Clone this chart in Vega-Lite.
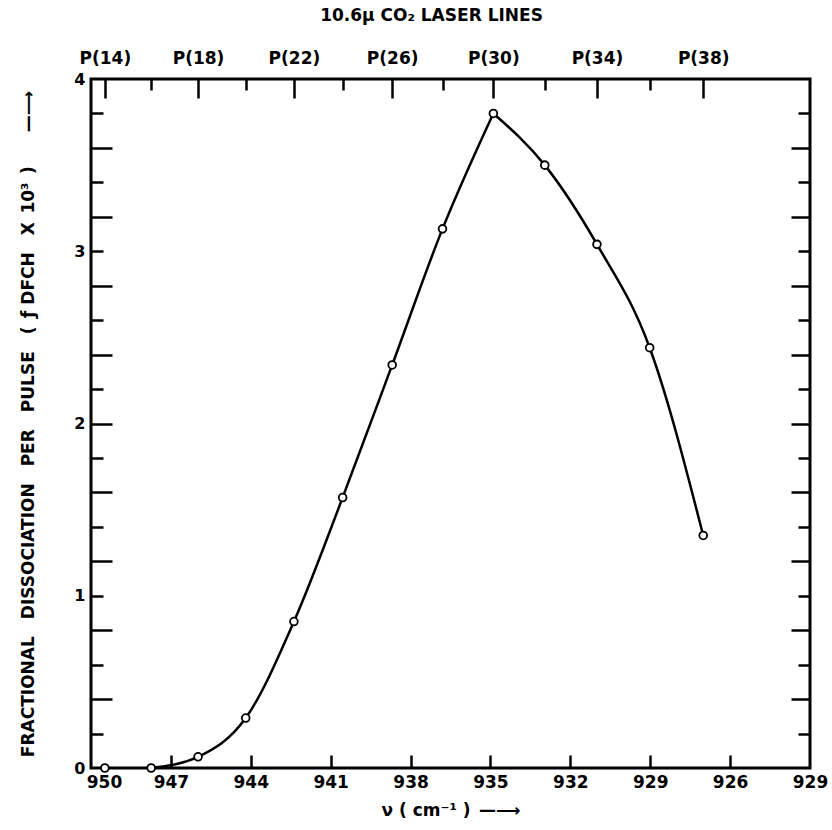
{
  "$schema": "https://vega.github.io/schema/vega-lite/v6.json",
  "width": 719,
  "height": 689,
  "autosize": {"type": "none"},
  "padding": {"left": 91, "top": 79, "right": 22, "bottom": 62},
  "background": "white",
  "config": {
    "view": {"stroke": "black", "strokeWidth": 3},
    "font": "DejaVu Sans",
    "axis": {
      "domain": false,
      "grid": false,
      "labelFont": "DejaVu Sans",
      "labelFontWeight": "bold",
      "labelColor": "black",
      "labelFontSize": 17,
      "tickColor": "black",
      "tickWidth": 2.5,
      "titleFont": "DejaVu Sans",
      "titleFontWeight": "bold",
      "titleColor": "black",
      "labelOverlap": false
    }
  },
  "datasets": {
    "points": [
      {"v": 949.48, "f": 0},
      {"v": 947.74, "f": 0},
      {"v": 945.98, "f": 0.065},
      {"v": 944.19, "f": 0.29},
      {"v": 942.38, "f": 0.85},
      {"v": 940.55, "f": 1.57},
      {"v": 938.69, "f": 2.34},
      {"v": 936.80, "f": 3.13},
      {"v": 934.89, "f": 3.8},
      {"v": 932.96, "f": 3.5},
      {"v": 931.00, "f": 3.04},
      {"v": 929.02, "f": 2.44},
      {"v": 927.01, "f": 1.35}
    ],
    "rise": [
      {"v": 947.74, "f": 0},
      {"v": 945.98, "f": 0.065},
      {"v": 944.19, "f": 0.29},
      {"v": 942.38, "f": 0.85},
      {"v": 940.55, "f": 1.57},
      {"v": 938.69, "f": 2.34},
      {"v": 936.80, "f": 3.13},
      {"v": 934.89, "f": 3.8}
    ],
    "fall": [
      {"v": 934.89, "f": 3.8},
      {"v": 932.96, "f": 3.5},
      {"v": 931.00, "f": 3.04},
      {"v": 929.02, "f": 2.44},
      {"v": 927.01, "f": 1.35}
    ]
  },
  "resolve": {"axis": {"x": "independent", "y": "independent"}},
  "layer": [
    {
      "data": {"name": "rise"},
      "mark": {"type": "line", "interpolate": "monotone", "color": "black", "strokeWidth": 2.5},
      "encoding": {
        "x": {
          "field": "v", "type": "quantitative",
          "scale": {"domain": [923, 950], "reverse": true, "nice": false, "zero": false},
          "axis": {
            "orient": "bottom",
            "values": [950, 947, 944, 941, 938, 935, 932, 929, 926, 923],
            "ticks": false,
            "format": "d",
            "labelPadding": 6,
            "labelFlush": false,
            "labelExpr": "datum.value == 923 ? '929' : datum.label",
            "labelOffset": {"condition": {"test": "datum.value == 950", "value": 13}, "value": 0},
            "title": "ν ( cm⁻¹ )\u2002—⟶",
            "titleFontSize": 17,
            "titlePadding": 12
          }
        },
        "y": {
          "field": "f", "type": "quantitative",
          "scale": {"domain": [0, 4], "nice": false},
          "axis": {
            "orient": "left",
            "values": [0, 1, 2, 3, 4],
            "ticks": false,
            "format": "d",
            "labelPadding": 6,
            "labelFontSize": 16,
            "title": "FRACTIONAL\u2003DISSOCIATION\u2003PER\u2003PULSE\u2003(\u2002ƒ\u00a0DFCH\u2003X\u200210³\u2002)\u2003\u2003—⟶",
            "titleFontSize": 17,
            "titlePadding": 36
          }
        },
        "order": {"field": "v", "sort": "descending"}
      }
    },
    {
      "data": {"name": "fall"},
      "mark": {"type": "line", "interpolate": "monotone", "color": "black", "strokeWidth": 2.5},
      "encoding": {
        "x": {
          "field": "v", "type": "quantitative",
          "scale": {"domain": [923, 950], "reverse": true, "nice": false, "zero": false},
          "axis": {
            "orient": "top",
            "values": [949.48, 947.74, 945.98, 944.19, 942.38, 940.55, 938.69, 936.80, 934.89, 932.96, 931.00, 929.02, 927.01],
            "tickSize": {"condition": {"test": "indexof([949.48, 945.98, 942.38, 938.69, 934.89, 931.0, 927.01], datum.value) >= 0", "value": -19}, "value": -11},
            "labelExpr": "indexof([949.48, 945.98, 942.38, 938.69, 934.89, 931.0, 927.01], datum.value) >= 0 ? ['P(14)','P(18)','P(22)','P(26)','P(30)','P(34)','P(38)'][indexof([949.48, 945.98, 942.38, 938.69, 934.89, 931.0, 927.01], datum.value)] : ''",
            "labelPadding": 31,
            "labelFlush": false,
            "title": "10.6μ CO₂ LASER LINES",
            "titleFontSize": 17,
            "titlePadding": 17,
            "titleX": 340
          }
        },
        "y": {
          "field": "f", "type": "quantitative",
          "scale": {"domain": [0, 4], "nice": false},
          "axis": {
            "orient": "left",
            "values": [0.2, 0.4, 0.6, 0.8, 1.0, 1.2, 1.4, 1.6, 1.8, 2.0, 2.2, 2.4, 2.6, 2.8, 3.0, 3.2, 3.4, 3.6, 3.8],
            "labels": false,
            "tickSize": {"condition": {"test": "round(datum.value * 10) % 4 == 0", "value": -21}, "value": -12},
            "title": null
          }
        },
        "order": {"field": "v", "sort": "descending"}
      }
    },
    {
      "data": {"name": "points"},
      "mark": {"type": "point", "shape": "circle", "filled": false, "fill": "white", "stroke": "black", "strokeWidth": 1.8, "size": 60, "opacity": 1},
      "encoding": {
        "x": {
          "field": "v", "type": "quantitative",
          "scale": {"domain": [923, 950], "reverse": true, "nice": false, "zero": false},
          "axis": {
            "orient": "bottom",
            "values": [947, 944, 941, 938, 935, 932, 929, 926],
            "labels": false,
            "tickSize": -13,
            "title": null
          }
        },
        "y": {
          "field": "f", "type": "quantitative",
          "scale": {"domain": [0, 4], "nice": false},
          "axis": {
            "orient": "right",
            "values": [0.2, 0.4, 0.6, 0.8, 1.0, 1.2, 1.4, 1.6, 1.8, 2.0, 2.2, 2.4, 2.6, 2.8, 3.0, 3.2, 3.4, 3.6, 3.8],
            "labels": false,
            "tickSize": {"condition": {"test": "round(datum.value * 10) % 4 == 0", "value": -19}, "value": -12},
            "title": null
          }
        }
      }
    }
  ]
}
